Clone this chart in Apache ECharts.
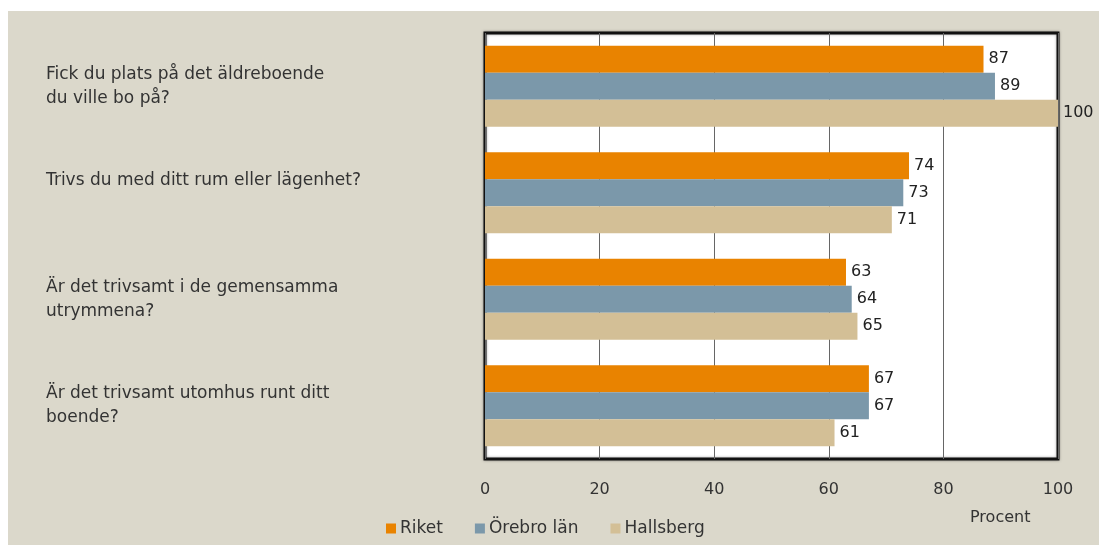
<!DOCTYPE html>
<html>
<head>
<meta charset="utf-8">
<script src="https://cdn.jsdelivr.net/npm/echarts@6/dist/echarts.min.js"></script>
<style>
  html, body { margin: 0; padding: 0; background: #ffffff; }
  #chart {
    position: absolute;
    left: 8px;
    top: 11px;
    width: 1091px;
    height: 534px;
    background: #dbd8cb;
  }
</style>
</head>
<body>
<div id="chart"></div>
<script>
const questions = [
  "Fick du plats på det äldreboende\ndu ville bo på?",
  "Trivs du med ditt rum eller lägenhet?",
  "Är det trivsamt i de gemensamma\nutrymmena?",
  "Är det trivsamt utomhus runt ditt\nboende?"
];
const seriesNames = ["Riket", "Örebro län", "Hallsberg"];
const riket = [87, 74, 63, 67];
const orebro = [89, 73, 64, 67];
const hallsberg = [100, 71, 65, 61];
const xTicks = [0, 100, 20];

const colors = ["#e98300", "#7b98aa", "#d3bf96"];
const font = "DejaVu Sans";

const chart = echarts.init(document.getElementById("chart"));

function barSeries(name, data, color) {
  return {
    name: name,
    type: "bar",
    data: data,
    barGap: "0%",
    barCategoryGap: "24%",
    itemStyle: { color: color },
    label: {
      show: true,
      position: "right",
      distance: 5,
      color: "#222",
      fontFamily: font,
      fontSize: 16
    }
  };
}

chart.setOption({
  animation: false,
  textStyle: { fontFamily: font },
  grid: {
    left: 477,
    right: 41,
    top: 22,
    bottom: 86,
    show: true,
    backgroundColor: "#ffffff",
    borderColor: "#111",
    borderWidth: 3,
    shadowColor: "rgba(0,0,0,0.35)",
    shadowBlur: 3
  },
  xAxis: {
    type: "value",
    min: xTicks[0],
    max: xTicks[1],
    interval: xTicks[2],
    axisLine: { show: false },
    axisTick: { show: false },
    splitLine: { show: true, lineStyle: { color: "#666", width: 1 } },
    axisLabel: { color: "#333", fontSize: 16, fontFamily: font, margin: 23 }
  },
  yAxis: {
    type: "category",
    inverse: true,
    data: questions,
    axisLine: { show: false },
    axisTick: { show: false },
    axisLabel: {
      align: "left",
      margin: 439,
      color: "#333",
      fontSize: 17,
      fontFamily: font,
      lineHeight: 24,
      padding: [0, 0, 8, 0],
      // single-line questions sit on the first line of a two-line block
      formatter: v => v.indexOf("\n") >= 0 ? v : v + "\n"
    }
  },
  legend: {
    left: 378,
    top: 509,
    padding: 0,
    itemWidth: 10,
    itemHeight: 10,
    itemGap: 32,
    icon: "rect",
    textStyle: { color: "#333", fontSize: 17, fontFamily: font, padding: [0, 0, 0, -1] },
    data: seriesNames
  },
  graphic: [{
    type: "text",
    left: 962,
    top: 499,
    style: { text: "Procent", fill: "#333", font: "16px " + font }
  }],
  series: [
    barSeries(seriesNames[0], riket, colors[0]),
    barSeries(seriesNames[1], orebro, colors[1]),
    barSeries(seriesNames[2], hallsberg, colors[2])
  ]
});
</script>
</body>
</html>
